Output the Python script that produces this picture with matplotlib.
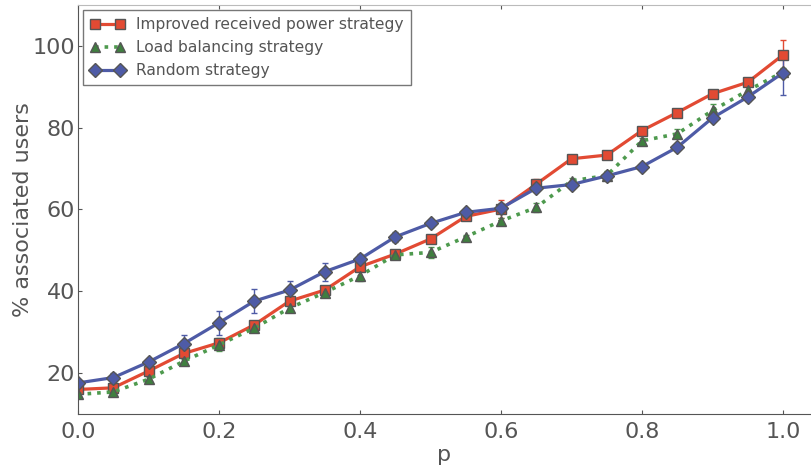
import numpy as np
import matplotlib
matplotlib.use("Agg")
import matplotlib.pyplot as plt
from matplotlib.lines import Line2D

# probabilidade p (eixo x)
p = [0.0, 0.05, 0.1, 0.15, 0.2, 0.25, 0.3, 0.35, 0.4, 0.45, 0.5,
     0.55, 0.6, 0.65, 0.7, 0.75, 0.8, 0.85, 0.9, 0.95, 1.0]

improved = [16.0, 16.4, 20.5, 24.8, 27.4, 31.8, 37.6, 40.3, 46.0, 49.1, 52.8,
            58.3, 60.1, 66.2, 72.4, 73.3, 79.3, 83.7, 88.3, 91.1, 97.8]
improved_err = [0.5, 0.5, 0.6, 0.7, 0.8, 0.7, 0.8, 0.6, 0.8, 0.6, 0.7,
                0.8, 2.3, 1.3, 0.6, 0.6, 0.6, 0.5, 0.6, 0.6, 3.6]

load = [14.8, 15.4, 18.5, 22.9, 26.9, 31.0, 35.9, 39.7, 43.8, 48.9, 49.5,
        53.3, 57.2, 60.5, 67.0, 68.3, 76.8, 78.5, 84.2, 89.1, 93.6]
load_err = [0.7, 0.7, 0.6, 0.6, 1.6, 0.8, 1.0, 0.7, 1.2, 0.6, 1.3,
            0.5, 0.7, 1.2, 0.7, 1.0, 0.6, 1.1, 1.7, 1.4, 1.0]

rand = [17.6, 18.9, 22.7, 27.2, 32.3, 37.6, 40.3, 44.8, 47.9, 53.3, 56.6,
        59.3, 60.3, 65.2, 66.1, 68.2, 70.5, 75.2, 82.4, 87.5, 93.4]
rand_err = [0.8, 1.0, 0.8, 2.2, 3.0, 2.9, 2.1, 2.2, 1.3, 1.3, 0.8,
            0.9, 1.2, 0.8, 0.6, 0.9, 0.6, 0.6, 0.8, 0.9, 5.4]

labels = ['Improved received power strategy', 'Load balancing strategy', 'Random strategy']

txt = '#555555'
edge = '#555555'
plt.rcParams['font.family'] = ['DejaVu Sans']

fig = plt.figure(figsize=(8.11, 4.68), dpi=100)
ax = fig.add_axes([0.0962, 0.1154, 0.9038, 0.874])

styles = [
    dict(color='#E24A33', lw=2.3, ls='-', marker='s', ms=7.5, mfc='#E24A33'),
    dict(color='#4E9A4E', lw=2.6, ls=':', marker='^', ms=7.5, mfc='#3F7F3F'),
    dict(color='#4E5BA6', lw=2.3, ls='-', marker='D', ms=7.5, mfc='#4E5BA6'),
]
series = [(improved, improved_err), (load, load_err), (rand, rand_err)]

handles = []
for (vals, errs), st, lab in zip(series, styles, labels):
    ax.errorbar(p, vals, yerr=errs, mec=edge, mew=1.0,
                elinewidth=1.0, capsize=2, **st)
    handles.append(Line2D([], [], mec=edge, mew=1.0, **st))

ax.set_xlim(0, 1.0397)
ax.set_ylim(10, 110)
ax.set_xticks([0.0, 0.2, 0.4, 0.6, 0.8, 1.0])
ax.set_yticks([20, 40, 60, 80, 100])
ax.tick_params(direction='in', length=3, colors='#555555', labelsize=16,
               top=True, right=False, pad=6)
ax.tick_params(axis='y', pad=2)
for s in ['left', 'bottom']:
    ax.spines[s].set_color('#555555')
ax.spines['top'].set_color('#bbbbbb')
ax.spines['right'].set_visible(False)

ax.set_xlabel('p', fontsize=16, color=txt, labelpad=2)
ax.set_ylabel('% associated users', fontsize=16, color=txt, labelpad=0)

leg = ax.legend(handles, labels, loc='upper left', fontsize=11.2, fancybox=False,
                framealpha=1, edgecolor='#777777', numpoints=2,
                handlelength=2.2, handletextpad=0.75, borderpad=0.45,
                labelspacing=0.5, borderaxespad=0.35)
for t in leg.get_texts():
    t.set_color(txt)

fig.savefig('out.png', dpi=100)
